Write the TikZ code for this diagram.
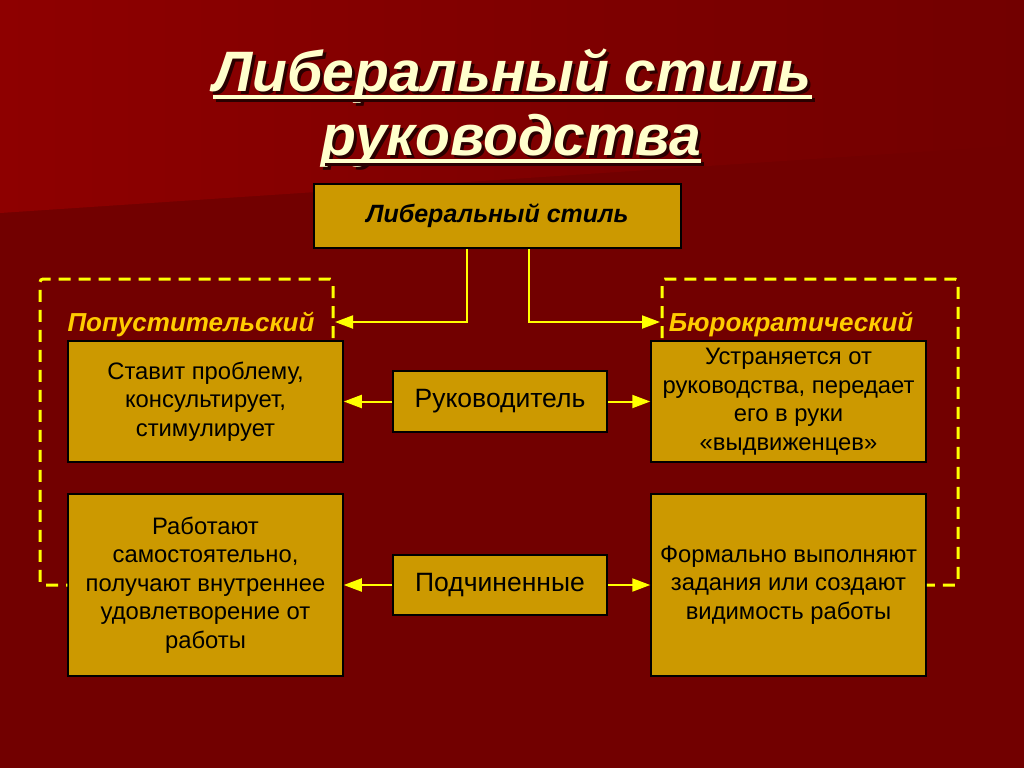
\documentclass[tikz,border=0pt]{standalone}
\usepackage{fontspec}
\setmainfont{Liberation Sans}
\usetikzlibrary{arrows.meta}
\definecolor{bgdark}{HTML}{720000}
\definecolor{bglight}{HTML}{8E0000}
\definecolor{boxfill}{HTML}{CC9900}
\definecolor{ylw}{HTML}{FFFF00}
\definecolor{lbl}{HTML}{FFCC00}
\definecolor{cream}{HTML}{FFFFCC}
\definecolor{shadowc}{HTML}{2A0000}
\begin{document}
\begin{tikzpicture}[x=1pt,y=-1pt,
  box/.style={draw=black, line width=1.5pt, fill=boxfill, inner sep=0pt, align=center,
    font=\fontsize{23.8}{28.5}\selectfont, text=black},
  sidebox/.style={box, minimum width=275pt},
  midbox/.style={box, minimum width=214pt, font=\fontsize{26.5}{30}\selectfont},
  conn/.style={draw=ylw, line width=2pt, -{Triangle[length=18pt,width=13pt]}},
  frame/.style={draw=ylw, line width=3pt, dash pattern=on 12pt off 8pt, rounded corners=3pt},
  lab/.style={text=lbl, font=\fontsize{26}{30}\selectfont\bfseries\itshape, inner sep=0pt, anchor=base},
  ttl/.style={font=\fontsize{57}{60}\selectfont\bfseries\itshape, inner sep=0pt, anchor=base}
]
\useasboundingbox (0,0) rectangle (1024,768);
% background
\fill[bgdark] (0,0) rectangle (1024,768);
\shade[left color=bglight, right color=bgdark] (0,0) -- (1024,0) -- (1024,145) -- (0,213) -- cycle;

% title with shadow
\node[ttl, text=shadowc] at (515.5,94) {Либеральный стиль};
\node[ttl, text=cream] (t1) at (512.5,91) {Либеральный стиль};
\fill[shadowc] ([xshift=3pt,yshift=-7pt]t1.base west) rectangle ([xshift=3pt,yshift=-11pt]t1.base east);
\fill[cream] ([yshift=-4pt]t1.base west) rectangle ([yshift=-8pt]t1.base east);
\node[ttl, text=shadowc] at (514.5,158) {руководства};
\node[ttl, text=cream] (t2) at (511.5,155) {руководства};
\fill[shadowc] ([xshift=3pt,yshift=-7pt]t2.base west) rectangle ([xshift=3pt,yshift=-11pt]t2.base east);
\fill[cream] ([yshift=-4pt]t2.base west) rectangle ([yshift=-8pt]t2.base east);

% boxes
\node[box, minimum width=367pt, minimum height=64pt, font=\fontsize{25}{28}\selectfont\bfseries\itshape] (top) at (497.5,216) {Либеральный стиль};
\node[sidebox, minimum height=121pt] (l1) at (205.5,401.5) {Ставит проблему,\\консультирует,\\стимулирует};
\node[sidebox, minimum height=121pt] (r1) at (788.5,401.5) {Устраняется от\\руководства, передает\\его в руки\\«выдвиженцев»};
\node[midbox, minimum height=61pt] (ruk) at (500,401.5) {Руководитель};
\node[sidebox, minimum height=182pt] (l2) at (205.5,585) {Работают\\самостоятельно,\\получают внутреннее\\удовлетворение от\\работы};
\node[sidebox, minimum height=182pt] (r2) at (788.5,585) {Формально выполняют\\задания или создают\\видимость работы};
\node[midbox, minimum height=60pt] (pod) at (500,585) {Подчиненные};

% labels
\node[lab] (pop) at (191,331) {Попустительский};
\node[lab] (bur) at (791,331) {Бюрократический};

% dashed frames
\draw[frame] (333,338) -- (333,279) -- (40,279) -- (40,585) -- (l2.west);
\draw[frame] (662,338) -- (662,279) -- (958,279) -- (958,585) -- (r2.east);

% connectors
\coordinate (lin) at (335,322);
\coordinate (rin) at (660,322);
\draw[conn] ([xshift=-30.5pt]top.south) |- (lin);
\draw[conn] ([xshift=31.5pt]top.south) |- (rin);
\draw[conn] (ruk.west) -- (l1.east);
\draw[conn] (ruk.east) -- (r1.west);
\draw[conn] (pod.west) -- (l2.east |- pod.west);
\draw[conn] (pod.east) -- (r2.west |- pod.east);
\end{tikzpicture}
\end{document}
